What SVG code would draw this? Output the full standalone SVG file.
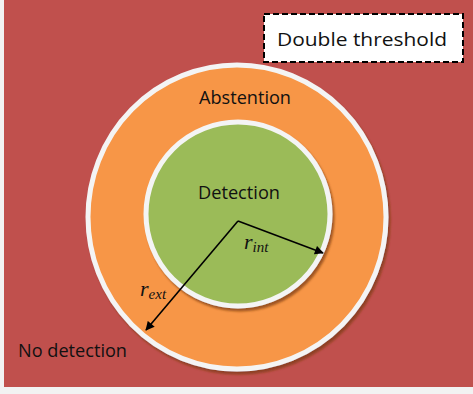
<svg xmlns="http://www.w3.org/2000/svg" width="473" height="394" viewBox="0 0 473 394">
  <defs>
    <marker id="arrow" viewBox="0 0 10 10" refX="9" refY="5" markerWidth="10" markerHeight="9" markerUnits="userSpaceOnUse" orient="auto">
      <path d="M0,0 L10,5 L0,10 z" fill="#000"/>
    </marker>
    <filter id="shadow" x="-10%" y="-10%" width="120%" height="120%">
      <feGaussianBlur in="SourceAlpha" stdDeviation="1"/>
      <feOffset dx="1.5" dy="2.5" result="off"/>
      <feFlood flood-color="#7a3a10" flood-opacity="0.7"/>
      <feComposite in2="off" operator="in"/>
      <feMerge>
        <feMergeNode/>
        <feMergeNode in="SourceGraphic"/>
      </feMerge>
    </filter>
  </defs>
  <style>
    .label { font-family: "Open Sans", "Liberation Sans", sans-serif; font-size: 18px; fill: #111; }
    .math { font-family: "Liberation Serif", "DejaVu Serif", serif; font-style: italic; fill: #111; }
    .zone { stroke: #f4f4f4; stroke-width: 5; }
    .conn { stroke: #000; stroke-width: 1.6; fill: none; marker-end: url(#arrow); }
  </style>

  <!-- page and background region -->
  <rect x="0" y="0" width="473" height="394" fill="#f2f2f2"/>
  <g id="no-detection">
    <rect x="4" y="0" width="469" height="387" fill="#c0504d"/>
    <text class="label" x="18" y="357" textLength="109" lengthAdjust="spacingAndGlyphs">No detection</text>
  </g>

  <!-- outer ring -->
  <g id="abstention">
    <ellipse class="zone" cx="237" cy="217" rx="149" ry="152" fill="#f79646" filter="url(#shadow)"/>
    <text class="label" x="245" y="104" text-anchor="middle" textLength="92" lengthAdjust="spacingAndGlyphs">Abstention</text>
  </g>

  <!-- inner disc -->
  <g id="detection">
    <circle class="zone" cx="238" cy="214" r="92" fill="#9bbb59" filter="url(#shadow)"/>
    <text class="label" x="239" y="199" text-anchor="middle" textLength="82" lengthAdjust="spacingAndGlyphs">Detection</text>
  </g>

  <!-- legend box -->
  <g id="legend">
    <rect x="264" y="14" width="199" height="48" fill="#fff" stroke="#000" stroke-width="2" stroke-dasharray="6,3"/>
    <text class="label" x="362" y="46" text-anchor="middle" font-size="22" textLength="170" lengthAdjust="spacingAndGlyphs">Double threshold</text>
  </g>

  <!-- radii -->
  <g id="connectors">
    <line class="conn" x1="238" y1="221" x2="323" y2="253"/>
    <line class="conn" x1="238" y1="221" x2="146" y2="330"/>
  </g>
  <g id="radius-labels">
    <text class="math" x="244" y="249" font-size="22">r<tspan font-size="15" dy="3">int</tspan></text>
    <text class="math" x="140" y="296" font-size="22">r<tspan font-size="15" dy="3">ext</tspan></text>
  </g>
</svg>
